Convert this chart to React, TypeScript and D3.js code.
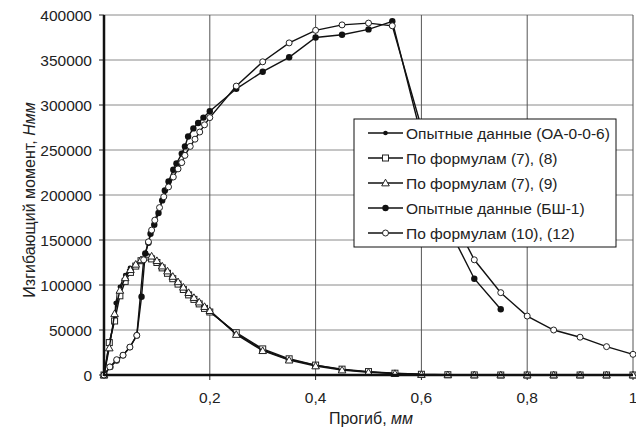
import React from "react";
import * as d3 from "d3";

const xTicks = [0.2, 0.4, 0.6, 0.8, 1];
const xTickLabels = ["0,2", "0,4", "0,6", "0,8", "1"];
const yTicks = [0, 50000, 100000, 150000, 200000, 250000, 300000, 350000, 400000];

const seriesNames = [
  "Опытные данные (ОА-0-0-6)",
  "По формулам (7), (8)",
  "По формулам (7), (9)",
  "Опытные данные (БШ-1)",
  "По формулам (10), (12)",
];

const oa: [number, number][] = [
  [0, 0], [0.01, 35000], [0.021, 65000], [0.022, 80000], [0.03, 98000], [0.04, 111000],
  [0.049, 119000], [0.068, 126000], [0.081, 133000], [0.09, 130000], [0.1, 126000],
  [0.11, 120000], [0.12, 114000], [0.13, 108000], [0.14, 102000], [0.15, 96000],
  [0.16, 90000], [0.17, 85000], [0.18, 80000], [0.19, 75000], [0.2, 71000],
  [0.25, 46000], [0.3, 28000], [0.35, 17000], [0.4, 11000], [0.45, 6000], [0.5, 3500],
  [0.55, 1800], [0.6, 500], [0.65, 0], [0.7, 0], [0.75, 0], [0.8, 0], [0.85, 0],
  [0.9, 0], [0.95, 0], [1, 0],
];

const f78: [number, number][] = [
  [0, 0], [0.01, 36000], [0.02, 60000], [0.03, 88000], [0.04, 104000], [0.05, 114000],
  [0.06, 121000], [0.07, 127000], [0.08, 131000], [0.09, 129000], [0.1, 125000],
  [0.11, 119000], [0.12, 113000], [0.13, 107000], [0.14, 101000], [0.15, 95000],
  [0.16, 89000], [0.17, 84000], [0.18, 79000], [0.19, 74000], [0.2, 70000],
  [0.25, 47000], [0.3, 29000], [0.35, 18000], [0.4, 11000], [0.45, 6500], [0.5, 3800],
  [0.55, 2000], [0.6, 800], [0.65, 300], [0.7, 100], [0.75, 0], [0.8, 0], [0.85, 0],
  [0.9, 0], [0.95, 0], [1, 0],
];

const f79: [number, number][] = [
  [0, 0], [0.01, 30000], [0.02, 68000], [0.03, 94000], [0.04, 108000], [0.05, 117000],
  [0.06, 123000], [0.07, 128000], [0.08, 134000], [0.09, 132000], [0.1, 127000],
  [0.11, 121000], [0.12, 115500], [0.13, 109500], [0.14, 103500], [0.15, 97500],
  [0.16, 91500], [0.17, 86000], [0.18, 81000], [0.19, 76000], [0.2, 71500],
  [0.25, 45000], [0.3, 27000], [0.35, 16500], [0.4, 10000], [0.45, 5500], [0.5, 3000],
  [0.55, 1500], [0.6, 500], [0.65, 200], [0.7, 0], [0.75, 0], [0.8, 0], [0.85, 0],
  [0.9, 0], [0.95, 0], [1, 0],
];

const bsh: [number, number][] = [
  [0, 0], [0.012, 9000], [0.024, 16000], [0.036, 22000], [0.049, 31000], [0.062, 44000],
  [0.071, 87000], [0.078, 135000], [0.084, 147000], [0.088, 157000], [0.095, 167000],
  [0.103, 180000], [0.11, 194000], [0.115, 205000], [0.122, 215000], [0.131, 228000],
  [0.137, 235000], [0.147, 246000], [0.153, 254000], [0.159, 265000], [0.169, 274000],
  [0.178, 280000], [0.188, 286000], [0.2, 293000], [0.25, 318000], [0.3, 337000],
  [0.35, 353000], [0.4, 375000], [0.45, 378000], [0.5, 384000], [0.545, 393000],
  [0.6, 265000], [0.65, 165000], [0.7, 107000], [0.75, 73000],
];

const f1012: [number, number][] = [
  [0, 0], [0.011, 9000], [0.024, 17000], [0.036, 22000], [0.049, 31000], [0.062, 44000],
  [0.075, 128000], [0.084, 148000], [0.09, 161000], [0.096, 172000], [0.105, 186000],
  [0.113, 198000], [0.122, 209000], [0.131, 220000], [0.14, 229000], [0.147, 236000],
  [0.153, 244000], [0.163, 254000], [0.172, 262000], [0.181, 270000], [0.19, 278000],
  [0.2, 286000], [0.25, 321000], [0.3, 348000], [0.35, 369000], [0.4, 383000],
  [0.45, 389000], [0.5, 391000], [0.545, 388000], [0.6, 275000], [0.65, 185000],
  [0.7, 128000], [0.75, 91500], [0.8, 65500], [0.85, 50000], [0.9, 42000],
  [0.95, 31500], [1, 23000],
];

const seriesData = [oa, f78, f79, bsh, f1012];
const markerKinds = ["dot", "square", "triangle", "bigdot", "circle"];

const W = 636;
const H = 430;
const FONT = "'Liberation Sans', Arial, sans-serif";

function Marker({ kind, x, y }: { kind: string; x: number; y: number }) {
  if (kind === "dot") return <circle cx={x} cy={y} r={2.3} fill="#111" />;
  if (kind === "bigdot") return <circle cx={x} cy={y} r={3.2} fill="#111" />;
  if (kind === "circle")
    return <circle cx={x} cy={y} r={3} fill="#fff" stroke="#222" strokeWidth={1} />;
  if (kind === "square")
    return <rect x={x - 3} y={y - 3} width={6} height={6} fill="#fff" stroke="#222" strokeWidth={1} />;
  const s = 3.8;
  return (
    <path
      d={`M${x},${y - s}L${x + s},${y + s * 0.75}L${x - s},${y + s * 0.75}Z`}
      fill="#fff"
      stroke="#222"
      strokeWidth={1}
    />
  );
}

export default function App() {
  const x = d3.scaleLinear().domain([0, 1]).range([104, 633]);
  const y = d3.scaleLinear().domain([0, 400000]).range([375, 15]);
  const line = d3
    .line<[number, number]>()
    .x((d) => x(d[0]))
    .y((d) => y(d[1]));

  const legX = 354;
  const legY = 119;
  const legW = 262;
  const legH = 128;
  const rowH = 25;

  return (
    <svg
      width={W}
      height={H}
      style={{ position: "absolute", left: 0, top: 0, background: "#fff" }}
      fontFamily={FONT}
    >
      <rect x={0} y={0} width={W} height={H} fill="#fff" />
      {/* horizontal grid */}
      {yTicks.map((t) => (
        <line key={"h" + t} x1={x(0)} x2={x(1)} y1={y(t)} y2={y(t)} stroke="#8a8a8a" strokeWidth={1} />
      ))}
      {/* vertical grid */}
      {xTicks.map((t) => (
        <line key={"v" + t} x1={x(t)} x2={x(t)} y1={y(400000)} y2={y(0)} stroke="#555" strokeWidth={1} />
      ))}
      {/* y ticks & labels */}
      {yTicks.map((t) => (
        <g key={"yt" + t}>
          <line x1={x(0) - 5} x2={x(0)} y1={y(t)} y2={y(t)} stroke="#222" strokeWidth={1} />
          <text x={92} y={y(t)} dy="0.36em" textAnchor="end" fontSize={15.5} fill="#222">
            {t}
          </text>
        </g>
      ))}
      {/* x ticks & labels */}
      {xTicks.map((t, i) => (
        <g key={"xt" + t}>
          <line x1={x(t)} x2={x(t)} y1={y(0)} y2={y(0) + 5} stroke="#222" strokeWidth={1} />
          <text x={x(t)} y={397} dy="0.36em" textAnchor="middle" fontSize={15.5} fill="#222">
            {xTickLabels[i]}
          </text>
        </g>
      ))}
      {/* series */}
      {seriesData.map((s, i) => (
        <g key={"s" + i}>
          <path d={line(s) || ""} fill="none" stroke="#111" strokeWidth={1.4} />
          {s.map((d, j) => (
            <Marker key={j} kind={markerKinds[i]} x={x(d[0])} y={y(d[1])} />
          ))}
        </g>
      ))}
      {/* axes */}
      <line x1={x(0)} x2={x(0)} y1={y(400000)} y2={y(0) + 1} stroke="#111" strokeWidth={2.5} />
      <line x1={x(0)} x2={x(1)} y1={y(0)} y2={y(0)} stroke="#111" strokeWidth={2.5} />
      {/* axis titles */}
      <text x={371} y={418} dy="0.36em" textAnchor="middle" fontSize={16} fill="#222">
        Прогиб, <tspan fontStyle="italic">мм</tspan>
      </text>
      <text
        transform={`translate(29,${(y(0) + y(400000)) / 2 + 5}) rotate(-90)`}
        dy="0.36em"
        textAnchor="middle"
        fontSize={16}
        fill="#222"
      >
        Изгибающий момент, <tspan fontStyle="italic">Нмм</tspan>
      </text>
      {/* legend */}
      <rect x={legX} y={legY} width={legW} height={legH} fill="#fff" stroke="#111" strokeWidth={1} />
      {seriesNames.map((n, i) => {
        const cy = legY + 14 + i * rowH;
        return (
          <g key={"l" + i}>
            <line x1={368} x2={403} y1={cy} y2={cy} stroke="#111" strokeWidth={1.4} />
            <Marker kind={markerKinds[i]} x={385.5} y={cy} />
            <text x={406} y={cy} dy="0.36em" fontSize={15.5} fill="#222">
              {n}
            </text>
          </g>
        );
      })}
    </svg>
  );
}
